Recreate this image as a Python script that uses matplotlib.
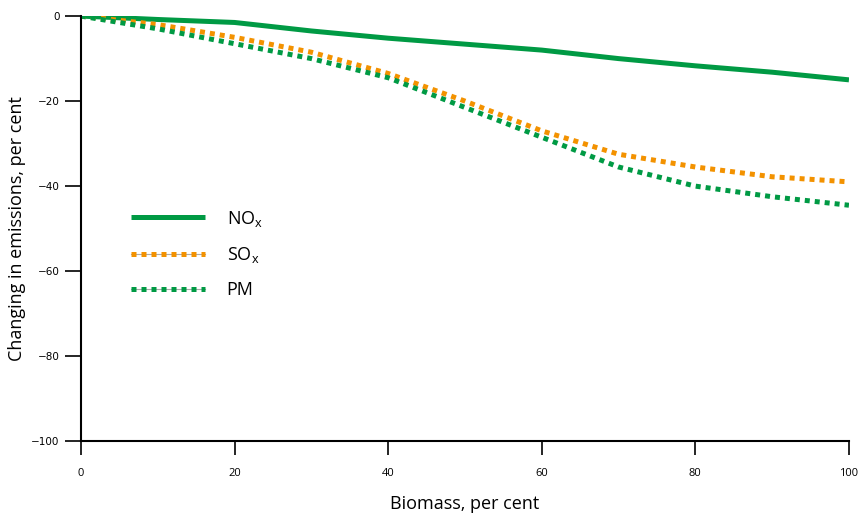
import matplotlib
matplotlib.use("Agg")
import matplotlib.pyplot as plt
from matplotlib.lines import Line2D
from matplotlib.legend_handler import HandlerTuple

# Data
biomass = [0, 10, 20, 30, 40, 50, 60, 70, 80, 90, 100]
nox = [0, -0.8, -1.5, -3.5, -5.2, -6.6, -8.0, -10.0, -11.7, -13.2, -15.0]
sox = [0, -2.0, -5.0, -8.5, -13.5, -20.0, -27.0, -32.5, -35.5, -37.8, -39.0]
pm = [0, -3.0, -6.5, -10.0, -14.5, -21.5, -28.5, -35.5, -40.0, -42.5, -44.5]

xticks = [0, 20, 40, 60, 80, 100]
yticks = [0, -20, -40, -60, -80, -100]

green = "#009a44"
orange = "#f39200"

plt.rcParams["font.family"] = ["Open Sans", "DejaVu Sans"]
plt.rcParams["mathtext.fontset"] = "custom"
plt.rcParams["mathtext.rm"] = "Open Sans"

fig = plt.figure(figsize=(8.59, 5.19), dpi=100)
ax = fig.add_axes([0.0943, 0.150, 0.894, 0.819])

l_nox, = ax.plot(biomass, nox, color=green, lw=3.6, solid_capstyle="butt")
l_sox, = ax.plot(biomass, sox, color=orange, lw=3.6, linestyle=(0, (1, 1)),
                 dash_capstyle="butt")
l_pm, = ax.plot(biomass, pm, color=green, lw=3.6, linestyle=(0, (1, 1)),
                dash_capstyle="butt")

ax.set_xlim(0, 100)
ax.set_ylim(-100, 0)
ax.set_xticks(xticks)
ax.set_yticks(yticks)
ax.set_yticklabels(["0" if v == 0 else "\u2212" + str(-v) for v in yticks],
                   family="DejaVu Sans")
ax.tick_params(axis="x", length=10, width=1.2, pad=9, labelsize=8)
ax.tick_params(axis="y", length=11.5, width=1.2, pad=4, labelsize=7.5)

for side in ["top", "right"]:
    ax.spines[side].set_visible(False)
for side in ["left", "bottom"]:
    ax.spines[side].set_linewidth(1.5)
ax.spines["bottom"].set_zorder(0)

ax.set_xlabel("Biomass, per cent", fontsize=13, labelpad=12)
ax.set_ylabel("Changing in emissions, per cent", fontsize=13, labelpad=4)

gray = Line2D([], [], color="#aaaaaa", lw=0.8)
ax.legend([l_nox, (gray, l_sox), (gray, l_pm)],
          ["NO$_{\\rm x}$", "SO$_{\\rm x}$", "PM"],
          handler_map={tuple: HandlerTuple(ndivide=1)},
          loc="upper left", bbox_to_anchor=(0.044, 0.585), frameon=False,
          fontsize=13, handlelength=4.1, handletextpad=1.2, labelspacing=0.9)

fig.savefig("out.png", dpi=100)
